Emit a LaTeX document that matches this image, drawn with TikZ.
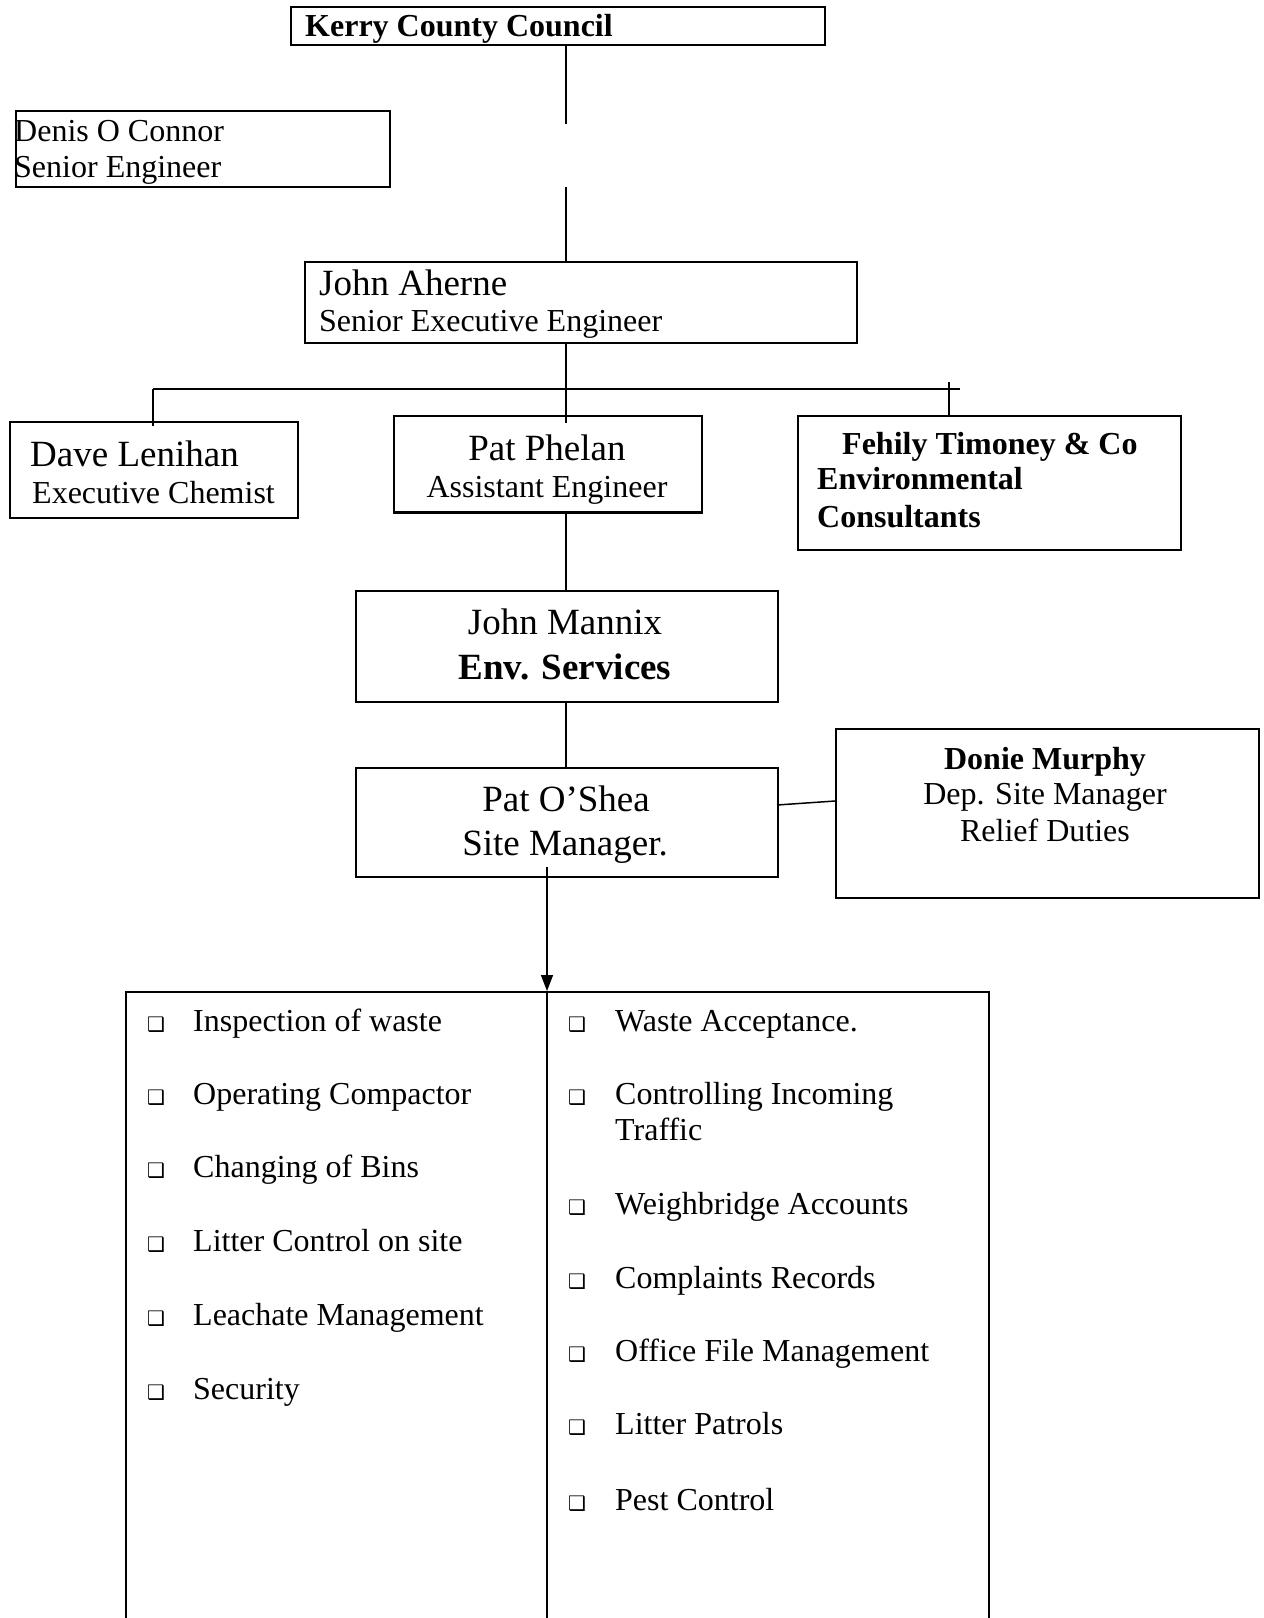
\documentclass[tikz,border=0pt]{standalone}
\usepackage{fontspec}
\setmainfont{Liberation Serif}
\newfontfamily\dejavu{DejaVu Sans}
\usetikzlibrary{arrows.meta}
\newcommand\cbx{{\dejavu\fontsize{20}{20}\selectfont ❑}}
\tikzset{
  box/.style={draw, line width=1.8pt, anchor=north west, inner sep=0pt},
  conn/.style={line width=1.5pt},
  txt/.style={inner sep=0pt, font=\fontsize{32}{38}\selectfont},
  big/.style={inner sep=0pt, font=\fontsize{37}{44}\selectfont},
  btxt/.style={inner sep=0pt, font=\fontsize{32}{38}\selectfont\bfseries},
  bbig/.style={inner sep=0pt, font=\fontsize{37}{44}\selectfont\bfseries},
}
\begin{document}
\begin{tikzpicture}[x=1pt,y=-1pt]
\useasboundingbox (0,0) rectangle (1264,1618);
\fill[white] (0,0) rectangle (1264,1618);

% boxes
\node[box, minimum width=534pt, minimum height=38pt] (kcc) at (290,6) {};
\node[box, minimum width=374pt, minimum height=76pt] (doc) at (15,110) {};
\node[box, minimum width=552pt, minimum height=81pt] (ja) at (304,261) {};
\node[box, minimum width=288pt, minimum height=96pt] (dl) at (9,421) {};
\node[box, minimum width=308pt, minimum height=96pt] (pp) at (393,415) {};
\node[box, minimum width=383pt, minimum height=134pt] (ft) at (797,415) {};
\node[box, minimum width=422pt, minimum height=111pt] (jm) at (355,590) {};
\node[box, minimum width=422pt, minimum height=109pt] (po) at (355,767) {};
\node[box, minimum width=423pt, minimum height=169pt] (dm) at (835,728) {};
\node[box, minimum width=863pt, minimum height=640pt] (list) at (125,991) {};

% texts
\node[btxt, anchor=base west] (kcct) at (305,36) {Kerry County Council};
\node[txt, anchor=base west] (doct1) at (14,141) {Denis O Connor};
\node[txt, anchor=base west] (doct2) at (14,177) {Senior Engineer};
\node[big, anchor=base west] (jat1) at (319,295) {John Aherne};
\node[txt, anchor=base west] (jat2) at (319,331) {Senior Executive Engineer};
\node[big, anchor=base west] (dlt1) at (30,466) {Dave Lenihan};
\node[txt, anchor=base west] (dlt2) at (32,503) {Executive Chemist};
\node[big, anchor=base] (ppt1) at (547,460) {Pat Phelan};
\begin{scope}
\clip (pp.north west) rectangle (pp.south east);
\node[txt, anchor=base] (ppt2) at (547,497) {Assistant Engineer};
\end{scope}
\draw[line width=1.8pt] (pp.south west) -- (pp.south east);
\node[btxt, anchor=base west] (ftt1) at (842,454) {Fehily Timoney \& Co};
\node[btxt, anchor=base west] (ftt2) at (817,489) {Environmental};
\node[btxt, anchor=base west] (ftt3) at (817,527) {Consultants};
\node[big, anchor=base] (jmt1) at (565,634) {John Mannix};
\node[bbig, anchor=base] (jmt2) at (565,679) {Env. Services};
\node[big, anchor=base] (pot1) at (566,811) {Pat O’Shea};
\node[big, anchor=base] (pot2) at (565,855) {Site Manager.};
\node[btxt, anchor=base] (dmt1) at (1045,769) {Donie Murphy};
\node[txt, anchor=base] (dmt2) at (1045,804) {Dep. Site Manager};
\node[txt, anchor=base] (dmt3) at (1045,841) {Relief Duties};

% connectors
\coordinate (g1) at (566,124);
\coordinate (g2) at (566,187);
\draw[conn] (kcc.south -| g1) -- (g1);
\draw[conn] (g2) -- (ja.north -| g2);
\coordinate (bl) at (153,389);
\coordinate (br) at (960,389);
\coordinate (bc) at (566,389);
\coordinate (tk) at (949,389);
\draw[line width=2.4pt] (bl) -- (br);
\draw[conn] (ja.south -| bc) -- ([yshift=-8pt]pp.north -| bc);
\draw[conn] (bl) -- ([yshift=-5pt]dl.north -| bl);
\draw[conn] ([yshift=7pt]tk) -- (ft.north -| tk);
\draw[conn] (pp.south -| bc) -- (jm.north -| bc);
\draw[conn] (jm.south -| bc) -- (po.north -| bc);
\coordinate (dmc) at (835,801);
\coordinate (poc) at (777,805);
\draw[conn] (poc) -- (dmc);
\coordinate (as) at (547,867);
\draw[conn, -{Triangle[length=16pt,width=12pt]}] (as) -- (list.north -| as);
\coordinate (dvb) at (547,1625);
\draw[line width=1.8pt] (list.north -| dvb) -- (dvb);

% list items
\foreach \y/\t [count=\i] in {1031/Inspection of waste,1104/Operating Compactor,1177/Changing of Bins,1251/Litter Control on site,1325/Leachate Management,1399/Security}{
  \node[inner sep=0pt, anchor=base west] (LB\i) at (147,\y) {\cbx};
  \node[txt, anchor=base west] (L\i) at (193,\y) {\t};
}
\foreach \y/\t [count=\i] in {1031/Waste Acceptance.,1104/Controlling Incoming,1214/Weighbridge Accounts,1288/Complaints Records,1361/Office File Management,1434/Litter Patrols,1510/Pest Control}{
  \node[inner sep=0pt, anchor=base west] (RB\i) at (568,\y) {\cbx};
  \node[txt, anchor=base west] (R\i) at (615,\y) {\t};
}
\node[txt, anchor=base west] (R2b) at (615,1140) {Traffic};
\end{tikzpicture}
\end{document}
